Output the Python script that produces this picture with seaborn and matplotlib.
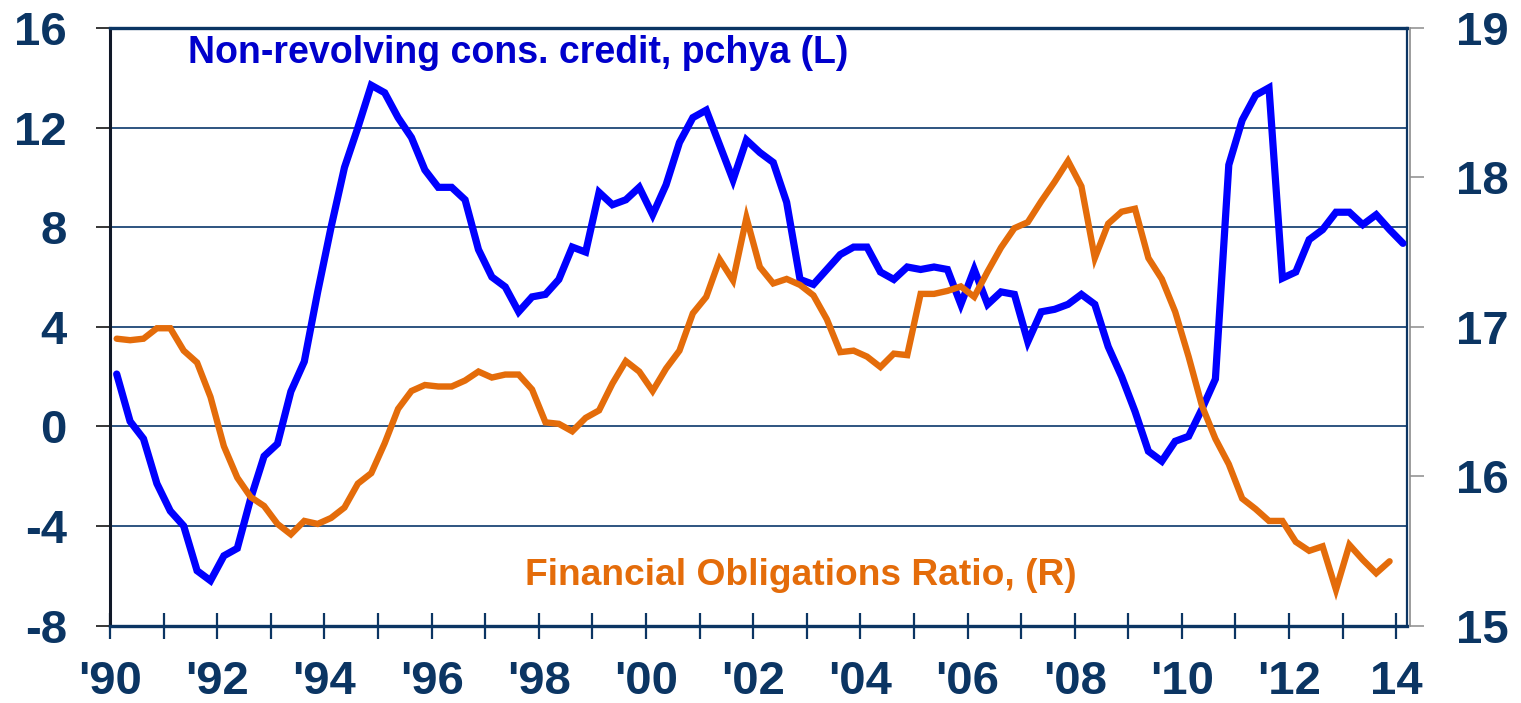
import numpy as np
import pandas as pd
import matplotlib
matplotlib.use("Agg")
import matplotlib.pyplot as plt
import seaborn as sns
from matplotlib.ticker import FixedLocator

# ---------------- data (quarterly, starting 1990 Q1) ----------------
start_year = 1990
credit_growth = [
    2.1, 0.2, -0.5, -2.3,      # 1990
    -3.4, -4.0, -5.8, -6.2,    # 1991
    -5.2, -4.9, -2.9, -1.2,    # 1992
    -0.7, 1.4, 2.6, 5.4,       # 1993
    8.0, 10.4, 12.0, 13.7,     # 1994
    13.4, 12.4, 11.6, 10.3,    # 1995
    9.6, 9.6, 9.1, 7.1,        # 1996
    6.0, 5.6, 4.6, 5.2,        # 1997
    5.3, 5.9, 7.2, 7.0,        # 1998
    9.4, 8.9, 9.1, 9.6,        # 1999
    8.5, 9.7, 11.4, 12.4,      # 2000
    12.7, 11.3, 9.9, 11.5,     # 2001
    11.0, 10.6, 9.0, 5.9,      # 2002
    5.7, 6.3, 6.9, 7.2,        # 2003
    7.2, 6.2, 5.9, 6.4,        # 2004
    6.3, 6.4, 6.3, 4.9,        # 2005
    6.3, 4.9, 5.4, 5.3,        # 2006
    3.4, 4.6, 4.7, 4.9,        # 2007
    5.3, 4.9, 3.2, 2.0,        # 2008
    0.6, -1.0, -1.4, -0.6,     # 2009
    -0.4, 0.7, 1.9, 10.5,      # 2010
    12.3, 13.3, 13.6, 5.95,    # 2011
    6.2, 7.5, 7.9, 8.6,        # 2012
    8.6, 8.1, 8.5, 7.9,        # 2013
    7.35,                      # 2014
]
obligations_ratio = [
    16.92, 16.91, 16.92, 16.99,   # 1990
    16.99, 16.84, 16.76, 16.53,   # 1991
    16.20, 15.99, 15.86, 15.80,   # 1992
    15.68, 15.61, 15.70, 15.68,   # 1993
    15.72, 15.79, 15.95, 16.02,   # 1994
    16.22, 16.45, 16.57, 16.61,   # 1995
    16.60, 16.60, 16.64, 16.70,   # 1996
    16.66, 16.68, 16.68, 16.58,   # 1997
    16.36, 16.35, 16.30, 16.39,   # 1998
    16.44, 16.62, 16.77, 16.70,   # 1999
    16.57, 16.72, 16.84, 17.09,   # 2000
    17.20, 17.45, 17.31, 17.73,   # 2001
    17.40, 17.29, 17.32, 17.28,   # 2002
    17.21, 17.05, 16.83, 16.84,   # 2003
    16.80, 16.73, 16.82, 16.81,   # 2004
    17.22, 17.22, 17.24, 17.27,   # 2005
    17.20, 17.37, 17.53, 17.66,   # 2006
    17.70, 17.84, 17.97, 18.11,   # 2007
    17.94, 17.46, 17.69, 17.77,   # 2008
    17.79, 17.46, 17.32, 17.10,   # 2009
    16.80, 16.47, 16.25, 16.08,   # 2010
    15.85, 15.78, 15.70, 15.70,   # 2011
    15.56, 15.50, 15.53, 15.24,   # 2012
    15.54, 15.44, 15.35, 15.43,   # 2013
]
x_tick_years = list(range(1990, 2015, 2))
x_tick_labels = ["'90", "'92", "'94", "'96", "'98", "'00", "'02", "'04",
                 "'06", "'08", "'10", "'12", "14"]
x_minor_years = list(range(1991, 2014, 2))
left_ticks = [-8, -4, 0, 4, 8, 12, 16]
right_ticks = [15, 16, 17, 18, 19]
credit_label = "Non-revolving cons. credit, pchya (L)"
ratio_label = "Financial Obligations Ratio, (R)"

# ---------------- style ----------------
sns.set_style("white")
plt.rcParams["font.family"] = ["Liberation Sans", "DejaVu Sans"]
plt.rcParams["font.weight"] = "bold"
plt.rcParams["axes.unicode_minus"] = False

NAVY = "#0B3563"
GRID = "#1C4676"
BLUE = "#0000FF"
ORANGE = "#E46C0A"
TICK_FS = 34

def quarter_dates(n):
    return start_year + 0.125 + 0.25 * np.arange(n)

df_credit = pd.DataFrame({"date": quarter_dates(len(credit_growth)),
                          "value": credit_growth})
df_ratio = pd.DataFrame({"date": quarter_dates(len(obligations_ratio)),
                         "value": obligations_ratio})

fig = plt.figure(figsize=(15.21, 7.03), dpi=100)
ax = fig.add_axes([0.07232, 0.11024, 0.85273, 0.84993])
ax2 = ax.twinx()

sns.lineplot(data=df_credit, x="date", y="value", ax=ax, color=BLUE,
             linewidth=5.2, solid_joinstyle="miter", zorder=3)
sns.lineplot(data=df_ratio, x="date", y="value", ax=ax2, color=ORANGE,
             linewidth=4.6, solid_joinstyle="miter", zorder=3)

ax.set_xlim(1990, 2014.2)
ax.set_ylim(-8, 16)
ax2.set_ylim(15, 19)

# grid
ax.yaxis.grid(True, color=GRID, linewidth=1.3)
ax.xaxis.grid(False)
ax.set_axisbelow(True)

# ticks
ax.xaxis.set_major_locator(FixedLocator(x_tick_years))
ax.set_xticklabels(x_tick_labels)
ax.xaxis.set_minor_locator(FixedLocator(x_minor_years))
ax.tick_params(axis="x", which="both", direction="inout", length=19,
               width=1.6, color=NAVY, labelsize=TICK_FS, labelcolor=NAVY,
               pad=15.5, bottom=True, top=False)
ax.yaxis.set_major_locator(FixedLocator(left_ticks))
ax.tick_params(axis="y", direction="out", length=10, width=1.1,
               color="black", labelsize=TICK_FS, labelcolor=NAVY, pad=21,
               left=True, right=False)
ax2.yaxis.set_major_locator(FixedLocator(right_ticks))
ax2.tick_params(axis="y", direction="out", length=10, width=1.1,
                color="#8C8C8C", labelsize=TICK_FS, labelcolor=NAVY, pad=23)

for a in (ax, ax2):
    a.set_xlabel("")
    a.set_ylabel("")

# spines
ax.spines["top"].set_color(NAVY)
ax.spines["top"].set_linewidth(2.4)
ax.spines["bottom"].set_color(NAVY)
ax.spines["bottom"].set_linewidth(2.4)
ax.spines["left"].set_color("#101828")
ax.spines["left"].set_linewidth(2.2)
ax.spines["right"].set_color(NAVY)
ax.spines["right"].set_linewidth(1.6)
for s in ("top", "bottom", "left"):
    ax2.spines[s].set_visible(False)
ax2.spines["right"].set_color("#8C8C8C")
ax2.spines["right"].set_linewidth(1.2)
ax2.spines["right"].set_position(("outward", 2.5))

# series labels
ax.text(0.060, 0.941, credit_label, transform=ax.transAxes, color="#0000CC",
        fontsize=27, fontweight="bold", ha="left", va="baseline")
ax.text(0.320, 0.068, ratio_label, transform=ax.transAxes, color=ORANGE,
        fontsize=26.7, fontweight="bold", ha="left", va="baseline")

fig.savefig("out.png", dpi=100)
